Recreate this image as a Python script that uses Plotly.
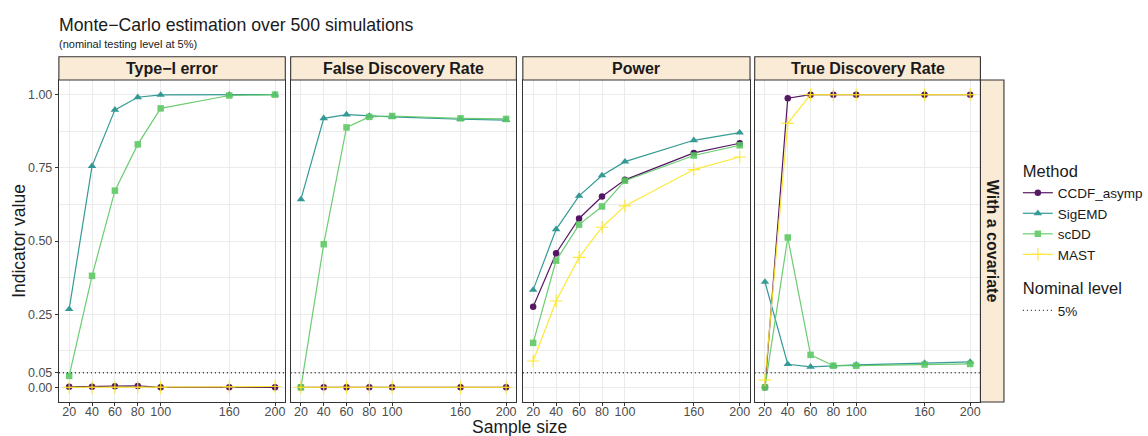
import plotly.graph_objects as go

W, H = 1148, 436

sample_sizes = [20, 40, 60, 80, 100, 160, 200]
panels = ["Type−I error", "False Discovery Rate", "Power", "True Discovery Rate"]
methods = ["CCDF_asymp", "SigEMD", "scDD", "MAST"]

# Type-I error
t1_ccdf = [0.002, 0.002, 0.004, 0.005, 0.0, 0.0, 0.0]
t1_sigemd = [0.267, 0.756, 0.948, 0.991, 0.999, 1.0, 1.0]
t1_scdd = [0.039, 0.381, 0.672, 0.830, 0.953, 0.997, 1.0]
t1_mast = [0.0, 0.0, 0.0, 0.0, 0.0, 0.002, 0.003]
# False Discovery Rate
fdr_ccdf = [0.0, 0.0, 0.0, 0.0, 0.0, 0.0, 0.0]
fdr_sigemd = [0.642, 0.919, 0.932, 0.927, 0.924, 0.916, 0.913]
fdr_scdd = [0.0, 0.489, 0.888, 0.924, 0.927, 0.919, 0.917]
fdr_mast = [0.0, 0.0, 0.0, 0.0, 0.0, 0.0, 0.0]
# Power
pow_ccdf = [0.275, 0.458, 0.577, 0.652, 0.709, 0.801, 0.834]
pow_sigemd = [0.333, 0.540, 0.654, 0.724, 0.771, 0.844, 0.870]
pow_scdd = [0.152, 0.433, 0.556, 0.618, 0.706, 0.792, 0.827]
pow_mast = [0.090, 0.295, 0.444, 0.547, 0.620, 0.744, 0.787]
# True Discovery Rate
tdr_ccdf = [0.0, 0.988, 1.0, 1.0, 1.0, 1.0, 1.0]
tdr_sigemd = [0.360, 0.079, 0.070, 0.073, 0.077, 0.083, 0.087]
tdr_scdd = [0.0, 0.512, 0.111, 0.074, 0.074, 0.078, 0.080]
tdr_mast = [0.025, 0.902, 1.0, 1.0, 1.0, 1.0, 1.0]

NOMINAL = 0.05
y_ticks = [0.0, 0.05, 0.25, 0.50, 0.75, 1.00]
y_ticklabels = ["0.00", "0.05", "0.25", "0.50", "0.75", "1.00"]
y_minor = [0.125, 0.375, 0.625, 0.875]

data = [
    [t1_ccdf, t1_sigemd, t1_scdd, t1_mast],
    [fdr_ccdf, fdr_sigemd, fdr_scdd, fdr_mast],
    [pow_ccdf, pow_sigemd, pow_scdd, pow_mast],
    [tdr_ccdf, tdr_sigemd, tdr_scdd, tdr_mast],
]

colors = ["#440154", "#21908C", "#5DC863", "#FDE725"]
symbols = ["circle", "triangle-up", "square", "cross-thin"]
sizes = [6.5, 7.5, 6.5, 9]

FONT = "Liberation Sans, Arial, Helvetica, sans-serif"
STRIP_FILL = "#FAEBD7"
BORDER = "#333333"
DOT = "1px,3px"


def px(x):
    return x / W


def py(y):
    return 1 - y / H


panel_x = [(59.3, 287.3), (292.7, 520.0), (526.5, 755.3), (760.0, 987.3)]
top, bottom = 80.0, 402.0
strip_top = 56.7

fig = go.Figure()

for i in range(4):
    ax = "" if i == 0 else str(i + 1)
    for j, m in enumerate(methods):
        first = (i == 0)
        kw = {}
        if first and j == 0:
            kw["legendgrouptitle_text"] = "Method"
        fig.add_trace(go.Scatter(
            x=sample_sizes, y=data[i][j],
            xaxis="x" + ax, yaxis="y" + ax,
            mode="lines+markers", name=m,
            line=dict(color=colors[j], width=1.2),
            marker=dict(symbol=symbols[j], size=sizes[j], color=colors[j],
                        line=dict(color=colors[j], width=1.2 if symbols[j] == "cross-thin" else 0)),
            opacity=0.9,
            showlegend=first, legendgroup="method",
            **kw,
        ))
    fig.add_shape(type="line", xref=f"x{ax} domain", yref="y" + ax,
                  x0=0, x1=1, y0=NOMINAL, y1=NOMINAL,
                  line=dict(color=BORDER, width=1.3, dash=DOT), layer="above")

fig.add_trace(go.Scatter(
    x=[None], y=[None], mode="lines", name="5%",
    line=dict(color=BORDER, width=1.3, dash=DOT),
    legendgroup="nominal", legendgrouptitle_text="Nominal level",
))

layout = dict(
    width=W, height=H,
    margin=dict(l=0, r=0, t=0, b=0),
    paper_bgcolor="white", plot_bgcolor="white",
    font=dict(family=FONT, color="#1a1a1a"),
    showlegend=True,
    legend=dict(
        x=px(1025), y=py(153), xanchor="left", yanchor="top",
        font=dict(size=13.5, color="#1a1a1a"),
        grouptitlefont=dict(size=16.5, color="#1a1a1a"),
        tracegroupgap=11, itemwidth=30, bgcolor="rgba(0,0,0,0)",
        traceorder="grouped",
    ),
)

for i in range(4):
    ax = "" if i == 0 else str(i + 1)
    x0, x1 = panel_x[i]
    layout["xaxis" + ax] = dict(
        domain=[px(x0), px(x1)], anchor="y" + ax,
        range=[11, 209], tickvals=sample_sizes,
        ticktext=[str(s) for s in sample_sizes],
        ticks="outside", ticklen=3, tickcolor=BORDER, tickwidth=1,
        ticklabelstandoff=-5,
        tickfont=dict(size=12.5, color="#4D4D4D", family=FONT),
        showgrid=True, gridcolor="#EBEBEB", gridwidth=1,
        showline=True, mirror=True, linecolor=BORDER, linewidth=1.1,
        zeroline=False, fixedrange=True,
    )
    layout["yaxis" + ax] = dict(
        domain=[py(bottom), py(top)], anchor="x" + ax,
        range=[-0.05, 1.05], tickvals=y_ticks, ticktext=y_ticklabels,
        showticklabels=(i == 0),
        ticks="outside" if i == 0 else "", ticklen=3, tickcolor=BORDER, tickwidth=1,
        tickfont=dict(size=12.5, color="#4D4D4D", family=FONT),
        showgrid=True, gridcolor="#EBEBEB", gridwidth=1,
        minor=dict(tickvals=y_minor, showgrid=True, gridcolor="#EBEBEB", gridwidth=0.6, ticks=""),
        showline=True, mirror=True, linecolor=BORDER, linewidth=1.1,
        zeroline=False, fixedrange=True,
    )

fig.update_layout(**layout)

for i, name in enumerate(panels):
    x0, x1 = panel_x[i]
    fig.add_shape(type="rect", xref="paper", yref="paper",
                  x0=px(x0), x1=px(x1), y0=py(top), y1=py(strip_top),
                  fillcolor=STRIP_FILL, line=dict(color=BORDER, width=1.1))
    fig.add_annotation(x=px((x0 + x1) / 2), y=py((top + strip_top) / 2),
                       xref="paper", yref="paper", text=f"<b>{name}</b>",
                       showarrow=False, font=dict(size=16, color="#1a1a1a", family=FONT),
                       xanchor="center", yanchor="middle")

# right strip
fig.add_shape(type="rect", xref="paper", yref="paper",
              x0=px(987.3), x1=px(1011), y0=py(bottom), y1=py(top),
              fillcolor=STRIP_FILL, line=dict(color=BORDER, width=1.1))
fig.add_annotation(x=px(999.2), y=py((top + bottom) / 2), xref="paper", yref="paper",
                   text="<b>With a covariate</b>", textangle=90, showarrow=False,
                   font=dict(size=16, color="#1a1a1a", family=FONT),
                   xanchor="center", yanchor="middle")

# titles
fig.add_annotation(x=px(57), y=py(25), xref="paper", yref="paper",
                   text="Monte−Carlo estimation over 500 simulations", showarrow=False,
                   font=dict(size=17.7, color="#1a1a1a", family=FONT),
                   xanchor="left", yanchor="middle")
fig.add_annotation(x=px(57), y=py(44), xref="paper", yref="paper",
                   text="(nominal testing level at 5%)", showarrow=False,
                   font=dict(size=11, color="#1a1a1a", family=FONT),
                   xanchor="left", yanchor="middle")
fig.add_annotation(x=px(523), y=py(427), xref="paper", yref="paper",
                   text="Sample size", showarrow=False,
                   font=dict(size=17.5, color="#1a1a1a", family=FONT),
                   xanchor="center", yanchor="middle")
fig.add_annotation(x=px(19), y=py((top + bottom) / 2), xref="paper", yref="paper",
                   text="Indicator value", textangle=-90, showarrow=False,
                   font=dict(size=17.5, color="#1a1a1a", family=FONT),
                   xanchor="center", yanchor="middle")

fig.write_html("out.html")
